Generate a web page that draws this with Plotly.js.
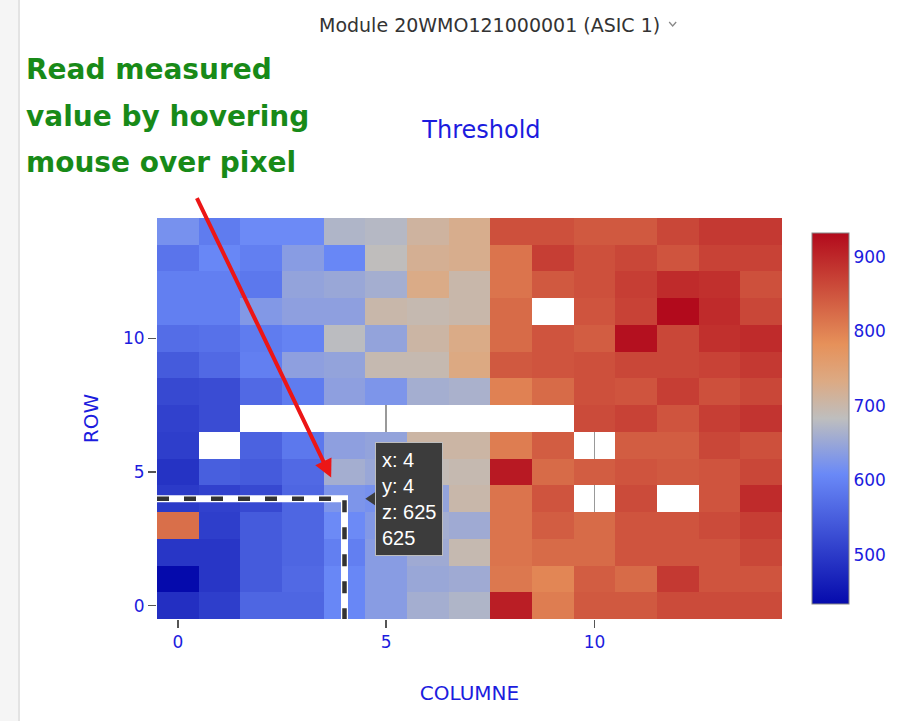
<!DOCTYPE html>
<html><head><meta charset="utf-8">
<script src="https://cdn.plot.ly/plotly-3.0.1.min.js"></script>
<style>
html,body{margin:0;padding:0;background:#fff;overflow:hidden}
#chart{width:903px;height:721px;position:absolute;left:0;top:0}
#edge{position:absolute;left:0;top:0;width:18px;height:721px;background:#f5f5f5;border-right:2px solid #e3e3e3;z-index:5}
</style></head><body>
<div id="chart"></div>
<div id="edge"></div>
<script>
// ---- data ----
const columns = [0,1,2,3,4,5,6,7,8,9,10,11,12,13,14];
const rows    = [0,1,2,3,4,5,6,7,8,9,10,11,12,13,14];
const row0  = [485,505,560,560,605,635,660,670,910,805,845,845,860,860,860];
const row1  = [434,495,545,565,605,635,650,655,810,795,840,825,880,850,850];
const row2  = [495,495,545,560,595,635,655,695,815,825,825,850,850,850,865];
const row3  = [820,505,545,560,610,630,660,655,815,840,825,850,850,860,875];
const row4  = [500,510,520,560,625,620,645,700,815,850,null,860,null,850,895];
const row5  = [490,550,545,565,660,650,690,695,915,825,840,850,845,850,865];
const row6  = [505,null,555,585,640,645,705,705,805,840,null,840,840,865,855];
const row7  = [510,525,null,null,null,null,null,null,null,null,860,870,850,875,885];
const row8  = [520,525,565,590,640,625,660,665,800,825,855,850,875,855,865];
const row9  = [545,565,595,640,645,695,695,735,845,850,855,865,865,870,880];
const row10 = [570,575,590,600,680,645,705,730,825,850,840,925,865,890,895];
const row11 = [595,595,630,640,640,700,695,700,825,null,850,870,932,895,865];
const row12 = [595,595,585,645,650,660,730,700,815,845,855,875,895,890,855];
const row13 = [580,605,595,635,605,685,720,725,815,875,855,865,850,870,870];
const row14 = [620,590,610,610,670,675,710,725,855,855,845,845,865,880,880];
const zValues = [row0,row1,row2,row3,row4,row5,row6,row7,row8,row9,row10,row11,row12,row13,row14];
const hoverCol = 4, hoverRow = 4;
const titleText = 'Threshold';
const xTitle = 'COLUMNE';
const yTitle = 'ROW';
const moduleLabel = 'Module 20WMO121000001 (ASIC 1)';
const noteLines = ['Read measured','value by hovering','mouse over pixel'];

// ---- layout helpers ----
const L = 157, T = 218, W = 626, H = 401;
const PX = p => (p - L) / W;
const PY = p => (T + H - p) / H;
const blue = 'rgb(28,28,222)';
const font = 'DejaVu Sans, Verdana, sans-serif';

const colorscale = [[0,'rgb(5,10,172)'],[0.35,'rgb(106,137,247)'],[0.5,'rgb(190,190,190)'],
  [0.6,'rgb(220,170,132)'],[0.7,'rgb(230,145,90)'],[1,'rgb(178,10,28)']];

const trace = {
  type: 'heatmap', x: columns, y: rows, z: zValues,
  colorscale: colorscale, hoverongaps: false,
  colorbar: {
    x: PX(802), xanchor: 'left', xpad: 10, y: 0.5, yanchor: 'middle',
    len: 0.975, thickness: 37, outlinewidth: 1, outlinecolor: '#888',
    tickfont: {family: font, size: 17, color: blue}, ticks: '', dtick: 100
  }
};

const hz = zValues[hoverRow][hoverCol];
const annotations = [
  {xref:'paper', yref:'paper', x: PX(490), y: PY(25), xanchor:'center', yanchor:'middle',
   text: moduleLabel, showarrow:false, font:{family:font, size:19, color:'#333'}},
  {xref:'x', yref:'y', x: 3.68, y: 4.79, ax: -135, ay: -281, text:'', showarrow:true,
   arrowcolor:'rgb(236,22,22)', arrowwidth:4, arrowhead:2, arrowsize:0.9},
  {xref:'x', yref:'y', x: hoverCol + 0.72, y: hoverRow, xanchor:'left', yanchor:'middle', align:'left',
   text: 'x: ' + hoverCol + '<br>y: ' + hoverRow + '<br>z: ' + hz + '<br>' + hz,
   showarrow:false, bgcolor:'#3c3c3c', bordercolor:'#bdbdbd', borderwidth:1, borderpad:6,
   font:{family:'Liberation Sans, Arial, sans-serif', size:20, color:'#fff'}}
];
noteLines.forEach((t, i) => annotations.push({
  xref:'paper', yref:'paper', x: PX(24), y: PY(70 + i * 46), xanchor:'left', yanchor:'middle',
  text: t, showarrow:false, font:{family:font, size:28, color:'rgb(24,138,24)', weight:'bold'}
}));

const shapes = [
  {type:'path', xref:'x', yref:'y', path:`M -0.5,${hoverRow} L ${hoverCol},${hoverRow} L ${hoverCol},-0.5`,
   line:{color:'#fff', width:7}},
  {type:'path', xref:'x', yref:'y', path:`M -0.5,${hoverRow} L ${hoverCol},${hoverRow} L ${hoverCol},-0.5`,
   line:{color:'#333', width:4.5, dash:'12px,15px'}},
  {type:'path', xref:'x', yref:'y', path:`M ${hoverCol+0.5},${hoverRow} L ${hoverCol+0.74},${hoverRow+0.25} L ${hoverCol+0.74},${hoverRow-0.25} Z`,
   fillcolor:'#3c3c3c', line:{width:0}},
  {type:'path', xref:'paper', yref:'paper',
   path:`M ${PX(670)},${PY(22)} L ${PX(673.5)},${PY(26)} L ${PX(677)},${PY(22)}`,
   line:{color:'#888', width:1.3}}
];

const axisCommon = {
  tickfont:{family:font, size:17, color:blue}, dtick:5, ticks:'outside', ticklen:8,
  tickcolor:'#555', tickwidth:1.5, showgrid:true, gridcolor:'#999', gridwidth:1.5,
  zeroline:false, showline:false, autorange:false, range:[-0.5, 14.5]
};

const layout = {
  width: 903, height: 721,
  margin: {l: L, r: 903 - L - W, t: T, b: 721 - T - H},
  paper_bgcolor: '#fff', plot_bgcolor: '#fff',
  title: {text: titleText, font:{family:font, size:24, color:blue},
          xref:'paper', x: PX(482), xanchor:'center', yref:'container', y: 1 - 130/721, yanchor:'middle'},
  xaxis: Object.assign({}, axisCommon, {title:{text:xTitle, font:{family:font, size:20, color:blue}, standoff: 34}}),
  yaxis: Object.assign({}, axisCommon, {title:{text:yTitle, font:{family:font, size:20, color:blue}, standoff: 18}}),
  annotations: annotations, shapes: shapes, showlegend: false
};

Plotly.newPlot('chart', [trace], layout, {displayModeBar:false, staticPlot:true});
</script>
</body></html>
